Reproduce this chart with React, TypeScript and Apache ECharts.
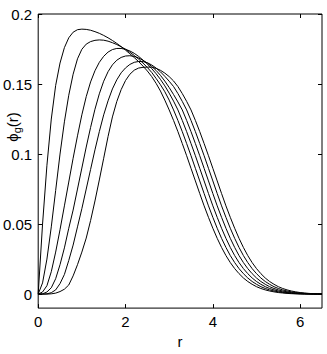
import React, { useEffect, useRef } from "react";
import * as echarts from "echarts";

const R = [
  0, 0.1, 0.2, 0.3, 0.4, 0.5, 0.6, 0.7, 0.8, 0.9, 1.0, 1.1, 1.2, 1.3, 1.4, 1.5, 1.6, 1.7, 1.8, 1.9,
  2.0, 2.1, 2.2, 2.3, 2.4, 2.5, 2.6, 2.7, 2.8, 2.9, 3.0, 3.1, 3.2, 3.3, 3.4, 3.5, 3.6, 3.7, 3.8, 3.9,
  4.0, 4.1, 4.2, 4.3, 4.4, 4.5, 4.6, 4.7, 4.8, 4.9, 5.0, 5.1, 5.2, 5.3, 5.4, 5.5, 5.6, 5.7, 5.8, 5.9,
  6.0, 6.1, 6.2, 6.3, 6.4, 6.5,
];

const phi1 = [
  0, 0.05, 0.092, 0.125, 0.149, 0.165, 0.176, 0.183, 0.187, 0.1888, 0.1892, 0.189, 0.1884, 0.1874, 0.1862,
  0.1847, 0.183, 0.1811, 0.179, 0.1767, 0.1742, 0.1716, 0.1689, 0.166, 0.1628, 0.1593, 0.1553, 0.1505, 0.145,
  0.1385, 0.1315, 0.124, 0.116, 0.1075, 0.0988, 0.0898, 0.0808, 0.0718, 0.063, 0.0548, 0.047, 0.0398, 0.0333,
  0.0275, 0.0225, 0.0182, 0.0146, 0.0115, 0.009, 0.007, 0.0053, 0.004, 0.003, 0.0022, 0.0016, 0.0011, 0.0008,
  0.0005, 0.0003, 0.0002, 0.0001, 0.0001, 0, 0, 0, 0,
];
const phi2 = [
  0, 0.008, 0.025, 0.048, 0.074, 0.1, 0.123, 0.142, 0.157, 0.168, 0.1748, 0.1785, 0.1803, 0.1812, 0.1815,
  0.1813, 0.1806, 0.1795, 0.1782, 0.1766, 0.1748, 0.1727, 0.1704, 0.1678, 0.165, 0.1618, 0.1583, 0.154, 0.1495,
  0.1445, 0.1385, 0.1315, 0.124, 0.116, 0.1075, 0.0988, 0.0898, 0.0808, 0.0718, 0.063, 0.0548, 0.047, 0.0398,
  0.0333, 0.0275, 0.0225, 0.0182, 0.0146, 0.0115, 0.009, 0.007, 0.0053, 0.004, 0.003, 0.0022, 0.0016, 0.0011,
  0.0008, 0.0005, 0.0003, 0.0002, 0.0001, 0.0001, 0, 0, 0,
];
const phi3 = [
  0, 0.0015, 0.006, 0.016, 0.03, 0.046, 0.063, 0.08, 0.097, 0.113, 0.128, 0.141, 0.1515, 0.1595, 0.1655,
  0.1698, 0.1728, 0.1746, 0.1754, 0.1754, 0.1748, 0.1736, 0.1719, 0.1697, 0.1671, 0.1643, 0.161, 0.1574, 0.1533,
  0.1487, 0.1435, 0.1378, 0.1315, 0.124, 0.116, 0.1075, 0.0988, 0.0898, 0.0808, 0.0718, 0.063, 0.0548, 0.047,
  0.0398, 0.0333, 0.0275, 0.0225, 0.0182, 0.0146, 0.0115, 0.009, 0.007, 0.0053, 0.004, 0.003, 0.0022, 0.0016,
  0.0011, 0.0008, 0.0005, 0.0003, 0.0002, 0.0001, 0.0001, 0, 0,
];
const phi4 = [
  0, 0.0002, 0.0015, 0.0045, 0.011, 0.021, 0.033, 0.047, 0.06, 0.075, 0.09, 0.105, 0.119, 0.132, 0.143,
  0.152, 0.1588, 0.1637, 0.167, 0.169, 0.17, 0.1702, 0.1697, 0.1686, 0.1669, 0.165, 0.1626, 0.1597, 0.1562,
  0.1521, 0.1475, 0.1425, 0.1372, 0.1315, 0.124, 0.116, 0.1075, 0.0988, 0.0898, 0.0808, 0.0718, 0.063, 0.0548,
  0.047, 0.0398, 0.0333, 0.0275, 0.0225, 0.0182, 0.0146, 0.0115, 0.009, 0.007, 0.0053, 0.004, 0.003, 0.0022,
  0.0016, 0.0011, 0.0008, 0.0005, 0.0003, 0.0002, 0.0001, 0.0001, 0,
];
const phi5 = [
  0, 0, 0.0002, 0.001, 0.003, 0.0075, 0.014, 0.024, 0.035, 0.048, 0.061, 0.075, 0.089, 0.103, 0.116,
  0.128, 0.138, 0.1465, 0.153, 0.158, 0.1615, 0.164, 0.1655, 0.1661, 0.166, 0.1652, 0.1636, 0.1614, 0.1587,
  0.1555, 0.152, 0.1482, 0.1432, 0.1376, 0.1315, 0.124, 0.116, 0.1075, 0.0988, 0.0898, 0.0808, 0.0718, 0.063,
  0.0548, 0.047, 0.0398, 0.0333, 0.0275, 0.0225, 0.0182, 0.0146, 0.0115, 0.009, 0.007, 0.0053, 0.004, 0.003,
  0.0022, 0.0016, 0.0011, 0.0008, 0.0005, 0.0003, 0.0002, 0.0001, 0.0001,
];
const phi6 = [
  0, 0, 0, 0.0002, 0.0007, 0.0018, 0.0035, 0.0065, 0.013, 0.021, 0.03, 0.04, 0.0525, 0.0665, 0.0815,
  0.097, 0.1125, 0.1265, 0.1375, 0.146, 0.1525, 0.157, 0.1599, 0.1614, 0.1619, 0.1621, 0.162, 0.1612, 0.1598,
  0.1578, 0.1553, 0.1522, 0.1482, 0.1432, 0.1376, 0.1315, 0.124, 0.116, 0.1075, 0.0988, 0.0898, 0.0808, 0.0718,
  0.063, 0.0548, 0.047, 0.0398, 0.0333, 0.0275, 0.0225, 0.0182, 0.0146, 0.0115, 0.009, 0.007, 0.0053, 0.004,
  0.003, 0.0022, 0.0016, 0.0011, 0.0008, 0.0005, 0.0003, 0.0002, 0.0001,
];

const CURVES = [phi1, phi2, phi3, phi4, phi5, phi6];
const X_TICKS = [0, 2, 4, 6];
const Y_TICKS = [0, 0.05, 0.1, 0.15, 0.2];
const X_MIN = 0;
const X_MAX = 6.5;
const Y_MIN = -0.01;
const Y_MAX = 0.2;

const FONT = '"Liberation Sans", Arial, Helvetica, sans-serif';

export default function App() {
  const ref = useRef<HTMLDivElement>(null);

  useEffect(() => {
    document.body.style.margin = "0";
    const chart = echarts.init(ref.current!, null, { renderer: "svg" });
    const tickStyle = { color: "#000", width: 1 };
    chart.setOption({
      animation: false,
      backgroundColor: "#fff",
      textStyle: { fontFamily: FONT },
      grid: {
        left: 37,
        top: 14,
        width: 285,
        height: 299,
        show: true,
        borderColor: "#000",
        borderWidth: 1,
        backgroundColor: "transparent",
      },
      xAxis: [
        {
          type: "value",
          min: X_MIN,
          max: X_MAX,
          position: "bottom",
          axisLine: { show: false, onZero: false },
          axisTick: { inside: true, length: 4, customValues: X_TICKS, lineStyle: tickStyle },
          axisLabel: { customValues: X_TICKS, color: "#000", fontSize: 15, margin: 6, fontFamily: FONT },
          splitLine: { show: false },
          name: "r",
          nameLocation: "middle",
          nameGap: 25,
          nameTextStyle: { fontSize: 15, color: "#000", fontFamily: FONT },
        },
        {
          type: "value",
          min: X_MIN,
          max: X_MAX,
          position: "top",
          axisLine: { show: false, onZero: false },
          axisTick: { inside: true, length: 4, customValues: X_TICKS, lineStyle: tickStyle },
          axisLabel: { show: false },
          splitLine: { show: false },
        },
      ],
      yAxis: [
        {
          type: "value",
          min: Y_MIN,
          max: Y_MAX,
          position: "left",
          axisLine: { show: false, onZero: false },
          axisTick: { inside: true, length: 4, customValues: Y_TICKS, lineStyle: tickStyle },
          axisLabel: { customValues: Y_TICKS, color: "#000", fontSize: 15, margin: 6, fontFamily: FONT },
          splitLine: { show: false },
        },
        {
          type: "value",
          min: Y_MIN,
          max: Y_MAX,
          position: "right",
          axisLine: { show: false, onZero: false },
          axisTick: { inside: true, length: 4, customValues: Y_TICKS, lineStyle: tickStyle },
          axisLabel: { show: false },
          splitLine: { show: false },
        },
      ],
      graphic: [
        {
          type: "text",
          x: 12,
          y: 127,
          rotation: Math.PI / 2,
          style: {
            text: "{a|ϕ}{s|g}{a|(r)}",
            align: "center",
            verticalAlign: "middle",
            fill: "#000",
            fontFamily: FONT,
            rich: {
              a: { fontSize: 15, fontFamily: FONT, fill: "#000", color: "#000", lineHeight: 18 },
              s: { fontSize: 11, fontFamily: FONT, fill: "#000", color: "#000", lineHeight: 18, padding: [9, 0, 0, 0] },
            },
          },
        },
      ],
      series: CURVES.map((vals, i) => ({
        name: "curve" + (i + 1),
        type: "line",
        xAxisIndex: 0,
        yAxisIndex: 0,
        data: R.map((r, j) => [r, vals[j]]),
        showSymbol: false,
        symbol: "none",
        lineStyle: { color: "#000", width: 1 },
        silent: true,
      })),
    });
    return () => chart.dispose();
  }, []);

  return <div ref={ref} style={{ width: 327, height: 354 }} />;
}
